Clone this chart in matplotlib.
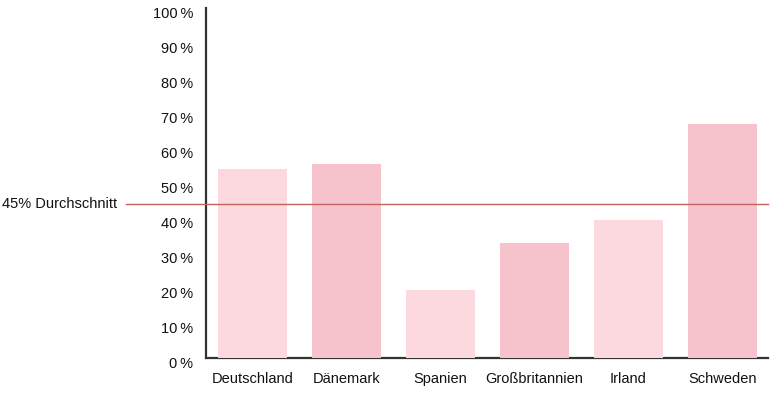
import matplotlib.pyplot as plt
import matplotlib.transforms as mtransforms

plt.rcParams['font.family'] = ['Liberation Sans', 'DejaVu Sans']

# data
laender = ['Deutschland', 'Dänemark', 'Spanien', 'Großbritannien', 'Irland', 'Schweden']
anteil = [54, 55.5, 19.5, 33, 39.5, 67]
durchschnitt_text = '45% Durchschnitt'
durchschnitt_linie = 44
y_ticks = [0, 10, 20, 30, 40, 50, 60, 70, 80, 90, 100]
y_labels = [f'{t}\u2009%' for t in y_ticks]

hell = '#fbd9de'
dunkel = '#f6c3cc'
farben = [hell, dunkel, hell, dunkel, hell, dunkel]

fig = plt.figure(figsize=(7.7, 3.95), dpi=100)
ax = fig.add_axes([0.267, 0.093, 0.731, 0.887])

x = range(len(laender))
ax.bar(x, anteil, width=0.73, color=farben, zorder=3)

ax.set_xlim(-0.5, 5.49)
ax.set_ylim(0, 100)
ax.set_yticks(y_ticks)
ax.set_yticklabels(y_labels, fontsize=10.5, color='#111111')
ax.set_xticks(list(x))
ax.set_xticklabels(laender, fontsize=10.5, color='#111111')
ax.tick_params(axis='both', length=0)
ax.tick_params(axis='y', pad=9)
ax.tick_params(axis='x', pad=10)

# tick labels sit a bit lower than the ticks in the reference
off = mtransforms.ScaledTranslation(0, -3 / 72, fig.dpi_scale_trans)
for lab in ax.get_yticklabels():
    lab.set_transform(lab.get_transform() + off)

for s in ['top', 'right']:
    ax.spines[s].set_visible(False)
ax.spines['left'].set_color('#333333')
ax.spines['left'].set_linewidth(1.6)
ax.spines['bottom'].set_color('#333333')
ax.spines['bottom'].set_linewidth(1.6)

# average line reaching past the axis into the label area
ax.axhline(durchschnitt_linie, xmin=-0.142, xmax=1.0, color='#c4625e',
           linewidth=1.0, clip_on=False, zorder=4)
ax.text(-0.361, durchschnitt_linie, durchschnitt_text, transform=ax.get_yaxis_transform(),
        ha='left', va='center', fontsize=10.5, color='#111111')

fig.savefig('out.png', dpi=100)
